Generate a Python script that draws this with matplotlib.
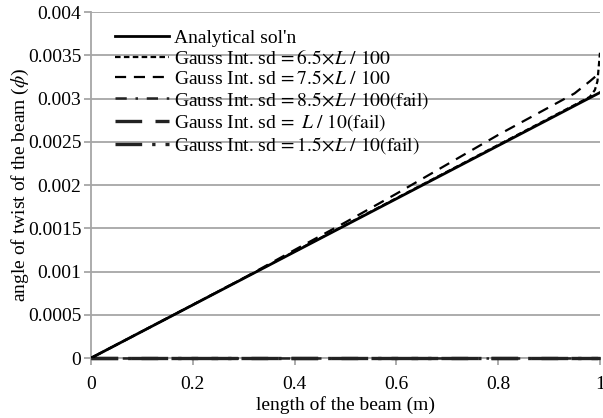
import numpy as np
import matplotlib.pyplot as plt

plt.rcParams['font.family'] = ['Liberation Serif', 'DejaVu Serif']
plt.rcParams['mathtext.fontset'] = 'stix'

# Position entlang des Balkens (m)
x_ana = [0.0, 0.1, 0.2, 0.3, 0.4, 0.5, 0.6, 0.7, 0.8, 0.9, 0.95, 1.0]
phi_ana = [0.0, 0.000307, 0.000614, 0.000921, 0.001228, 0.001535, 0.001842,
           0.002149, 0.002456, 0.002763, 0.002917, 0.00307]

x_g65 = [0.0, 0.1, 0.2, 0.3, 0.4, 0.5, 0.6, 0.7, 0.8, 0.9, 0.95, 0.98, 0.99, 0.995, 1.0]
phi_g65 = [0.0, 0.000308, 0.000616, 0.000924, 0.001232, 0.00154, 0.001848,
           0.002156, 0.002464, 0.002772, 0.002926, 0.00302, 0.0031, 0.0032, 0.00353]

x_g75 = [0.0, 0.1, 0.2, 0.3, 0.4, 0.5, 0.6, 0.7, 0.8, 0.9, 0.95, 0.98, 0.99, 1.0]
phi_g75 = [0.0, 0.000307, 0.000615, 0.000925, 0.00125, 0.00157, 0.0019,
           0.00224, 0.00258, 0.0029, 0.00306, 0.0032, 0.00325, 0.0033]

# gescheiterte Berechnungen liegen alle auf null
x_fail = [0.0, 1.0]
phi_g85 = [0.0, 0.0]
phi_g10 = [0.0, 0.0]
phi_g15 = [0.0, 0.0]

y_ticks = [0, 0.0005, 0.001, 0.0015, 0.002, 0.0025, 0.003, 0.0035, 0.004]
y_labels = ['0', '0.0005', '0.001', '0.0015', '0.002', '0.0025', '0.003', '0.0035', '0.004']
x_ticks = [0, 0.2, 0.4, 0.6, 0.8, 1.0]
x_labels = ['0', '0.2', '0.4', '0.6', '0.8', '1']

fig = plt.figure(figsize=(6.03, 4.18), dpi=100)
ax = fig.add_axes([0.151, 0.1435, 0.844, 0.8275])

ax.plot(x_ana, phi_ana, color='black', lw=2.0, ls='-', label="Analytical sol'n", zorder=5)
ax.plot(x_g65, phi_g65, color='black', lw=1.6, ls=(0, (2.5, 1.5)),
        label=r'Gauss Int. sd$\,=6.5\!\times\! L\ /\ 100$', zorder=4)
ax.plot(x_g75, phi_g75, color='black', lw=1.6, ls=(0, (5, 3.5)),
        label=r'Gauss Int. sd$\,=7.5\!\times\! L\ /\ 100$', zorder=4)
ax.plot(x_fail, phi_g85, color='#222222', lw=1.8, ls=(0, (4.5, 3.5, 1, 3.5)), clip_on=False,
        label=r'Gauss Int. sd$\,=8.5\!\times\! L\ /\ 100\left(\mathrm{fail}\right)$', zorder=3)
ax.plot(x_fail, phi_g10, color='#222222', lw=2.4, ls=(0, (8, 4)), clip_on=False,
        label=r'Gauss Int. sd$\,=\ L\ /\ 10\left(\mathrm{fail}\right)$', zorder=3)
ax.plot(x_fail, phi_g15, color='#222222', lw=2.4, ls=(0, (8, 3, 1, 3)), clip_on=False,
        label=r'Gauss Int. sd$\,=1.5\!\times\! L\ /\ 10\left(\mathrm{fail}\right)$', zorder=3)

ax.set_xlim(0, 1)
ax.set_ylim(0, 0.004)
ax.set_xticks(x_ticks)
ax.set_xticklabels(x_labels)
ax.set_yticks(y_ticks)
ax.set_yticklabels(y_labels)
ax.grid(axis='y', color='#a6a6a6', lw=1.3)
ax.set_axisbelow(True)
for s in ['top', 'right']:
    ax.spines[s].set_visible(False)
for s in ['left', 'bottom']:
    ax.spines[s].set_color('#a6a6a6')
    ax.spines[s].set_linewidth(1.3)
ax.tick_params(axis='both', colors='#a6a6a6', labelcolor='black', labelsize=14,
               length=5, width=1.3, direction='out')
ax.tick_params(axis='x', pad=8)
ax.tick_params(axis='y', pad=2)

ax.set_xlabel('length of the beam (m)', fontsize=14, labelpad=2)
ax.set_ylabel(r'angle of twist of the beam ($\phi$)', fontsize=14, labelpad=-2)

ax.legend(loc='upper left', bbox_to_anchor=(0.031, 0.973), frameon=False, fontsize=14,
          handlelength=2.8, handletextpad=0.25, labelspacing=0.1, borderaxespad=0)

fig.savefig('out.png', dpi=100)
